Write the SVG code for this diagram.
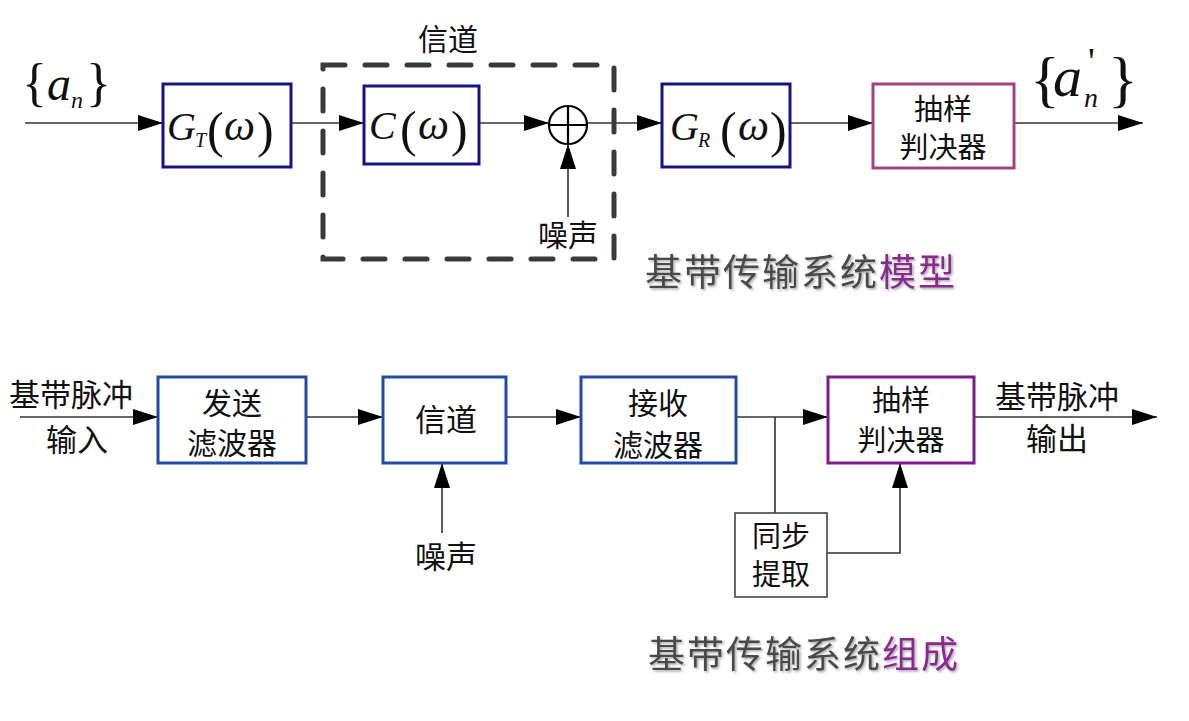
<svg xmlns="http://www.w3.org/2000/svg" width="1189" height="721" viewBox="0 0 1189 721">
<style>
.bg{fill:#ffffff}
.cn{font-family:"Noto Sans CJK SC","Noto Sans",sans-serif;fill:#111;text-anchor:middle}
.m{font-family:"Liberation Serif",serif;fill:#111}
.i{font-style:italic}
.line{stroke:#333;stroke-width:1.6;fill:none}
.bt{fill:#fff;stroke:#141488;stroke-width:3}
.bb{fill:#fff;stroke:#1f4aa6;stroke-width:3}
.title{font-family:"Noto Sans CJK SC",sans-serif;font-size:37px;letter-spacing:2px;fill:#4a4a4a}
.pur{fill:#8a2a8e}
</style>
<defs>
<marker id="ah" markerUnits="userSpaceOnUse" markerWidth="26" markerHeight="16" refX="25" refY="8" orient="auto">
<path d="M0,0 L25,8 L0,16 z" fill="#000"/>
</marker>
<filter id="sh" x="-5%" y="-20%" width="110%" height="140%">
<feDropShadow dx="1.5" dy="1.5" stdDeviation="1" flood-color="#000" flood-opacity="0.35"/>
</filter>
</defs>
<rect class="bg" x="0" y="0" width="1189" height="721"/>

<g id="connectors">
<path class="line" d="M25 123 H163" marker-end="url(#ah)"/>
<path class="line" d="M291 123 H364" marker-end="url(#ah)"/>
<path class="line" d="M479 123 H549" marker-end="url(#ah)"/>
<path class="line" d="M568 217 V144" marker-end="url(#ah)"/>
<path class="line" d="M587 123 H662" marker-end="url(#ah)"/>
<path class="line" d="M790 123 H873" marker-end="url(#ah)"/>
<path class="line" d="M1014 123 H1143" marker-end="url(#ah)"/>

<path class="line" d="M20 417 H158" marker-end="url(#ah)"/>
<path class="line" d="M306 417 H383" marker-end="url(#ah)"/>
<path class="line" d="M442 533 V463" marker-end="url(#ah)"/>
<path class="line" d="M506 417 H581" marker-end="url(#ah)"/>
<path class="line" d="M736 417 H828" marker-end="url(#ah)"/>
<path class="line" d="M775 417 V513"/>
<path class="line" d="M827 553 H900 V463" marker-end="url(#ah)"/>
<path class="line" d="M974 417 H1157" marker-end="url(#ah)"/>
</g>

<g id="channel-dashed">
<rect x="323" y="65" width="291" height="194" fill="none" stroke="#3a3a3a" stroke-width="5" stroke-dasharray="22 20" stroke-linecap="round"/>
<text class="cn" x="448" y="50" font-size="30">信道</text>
</g>

<g id="input-an">
<text class="m" y="100"><tspan x="22" font-size="52">{</tspan><tspan class="i" x="47" font-size="48">a</tspan><tspan class="i" x="71" y="108" font-size="24">n</tspan><tspan x="86" y="100" font-size="52">}</tspan></text>
</g>

<g id="GT">
<rect class="bt" x="163" y="84" width="128" height="83"/>
<text class="m" y="140"><tspan class="i" x="167" font-size="40">G</tspan><tspan class="i" x="195" y="147" font-size="20">T</tspan><tspan x="207" y="147" font-size="50">(</tspan><tspan class="i" x="224" y="140" font-size="44">ω</tspan><tspan x="257" y="147" font-size="50">)</tspan></text>
</g>

<g id="C">
<rect class="bt" x="364" y="86" width="115" height="78"/>
<text class="m" y="139"><tspan class="i" x="369" font-size="40">C</tspan><tspan x="400" y="146" font-size="50">(</tspan><tspan class="i" x="418" y="139" font-size="44">ω</tspan><tspan x="451" y="146" font-size="50">)</tspan></text>
</g>

<g id="adder">
<circle cx="568" cy="125" r="19" fill="#fff" stroke="#000" stroke-width="2.2"/>
<path d="M549 125 H587 M568 106 V144" stroke="#000" stroke-width="2.2"/>
</g>

<g id="noise-top">
<text class="cn" x="568" y="246" font-size="30">噪声</text>
</g>

<g id="GR">
<rect class="bt" x="662" y="84" width="128" height="83"/>
<text class="m" y="140"><tspan class="i" x="670" font-size="40">G</tspan><tspan class="i" x="698" y="147" font-size="20">R</tspan><tspan x="720" y="147" font-size="50">(</tspan><tspan class="i" x="738" y="140" font-size="44">ω</tspan><tspan x="770" y="147" font-size="50">)</tspan></text>
</g>

<g id="sampler-top">
<rect x="873" y="84" width="141" height="84" fill="#fff" stroke="#a3457c" stroke-width="3"/>
<text class="cn" x="943" y="120" font-size="29">抽样</text>
<text class="cn" x="943" y="158" font-size="29">判决器</text>
</g>

<g id="output-an">
<text class="m" y="100"><tspan x="1030" font-size="62">{</tspan><tspan class="i" x="1053" y="96" font-size="58">a</tspan><tspan class="i" x="1084" y="107" font-size="28">n</tspan><tspan x="1088" y="74" font-size="38">'</tspan><tspan x="1108" y="100" font-size="62">}</tspan></text>
</g>

<g id="title-model" filter="url(#sh)">
<text class="title" x="645" y="286">基带传输系统<tspan class="pur">模型</tspan></text>
</g>

<g id="input-label">
<text class="cn" x="71" y="406" font-size="31">基带脉冲</text>
<text class="cn" x="77" y="451" font-size="31">输入</text>
</g>

<g id="tx-filter">
<rect class="bb" x="158" y="377" width="148" height="86"/>
<text class="cn" x="232" y="414" font-size="30">发送</text>
<text class="cn" x="232" y="454" font-size="30">滤波器</text>
</g>

<g id="channel">
<rect class="bb" x="383" y="377" width="123" height="86"/>
<text class="cn" x="446" y="431" font-size="31">信道</text>
</g>

<g id="noise-bottom">
<text class="cn" x="446" y="568" font-size="31">噪声</text>
</g>

<g id="rx-filter">
<rect class="bb" x="581" y="377" width="155" height="86"/>
<text class="cn" x="658" y="414" font-size="30">接收</text>
<text class="cn" x="658" y="456" font-size="30">滤波器</text>
</g>

<g id="sampler-bottom">
<rect x="828" y="377" width="146" height="86" fill="#fff" stroke="#7f1a8a" stroke-width="3"/>
<text class="cn" x="901" y="411" font-size="29">抽样</text>
<text class="cn" x="901" y="451" font-size="29">判决器</text>
</g>

<g id="sync">
<rect x="735" y="513" width="92" height="84" fill="#fff" stroke="#444" stroke-width="1.6"/>
<text class="cn" x="781" y="547" font-size="29">同步</text>
<text class="cn" x="781" y="585" font-size="29">提取</text>
</g>

<g id="output-label">
<text class="cn" x="1057" y="408" font-size="31">基带脉冲</text>
<text class="cn" x="1057" y="450" font-size="31">输出</text>
</g>

<g id="title-comp" filter="url(#sh)">
<text class="title" x="648" y="668">基带传输系统<tspan class="pur">组成</tspan></text>
</g>
</svg>
